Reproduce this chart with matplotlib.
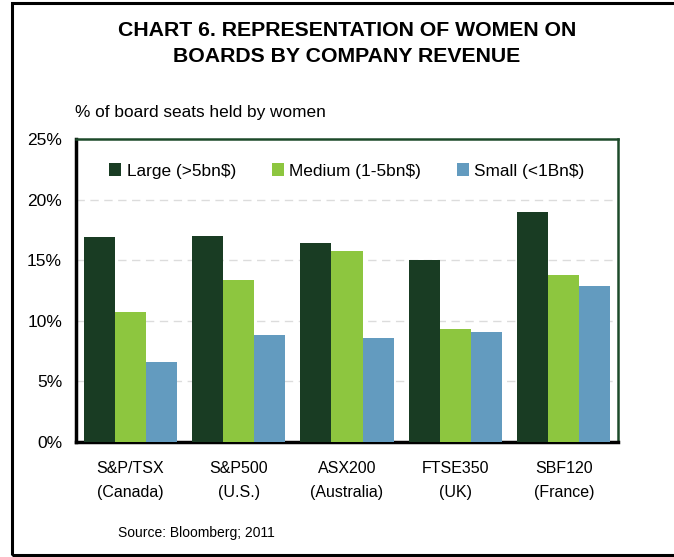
import matplotlib
matplotlib.use("Agg")
import matplotlib.pyplot as plt
from matplotlib.patches import Rectangle
import numpy as np

plt.rcParams['font.family'] = ['Liberation Sans', 'DejaVu Sans']

categories = ["S&P/TSX\n(Canada)", "S&P500\n(U.S.)", "ASX200\n(Australia)", "FTSE350\n(UK)", "SBF120\n(France)"]
series_names = ["Large (>5bn$)", "Medium (1-5bn$)", "Small (<1Bn$)"]
large = [16.9, 17.0, 16.4, 15.0, 19.0]
medium = [10.7, 13.4, 15.8, 9.3, 13.8]
small = [6.6, 8.8, 8.6, 9.1, 12.9]
yticks = [0, 5, 10, 15, 20, 25]
ytick_labels = ["0%", "5%", "10%", "15%", "20%", "25%"]

colors = ["#193c23", "#8dc63f", "#639bbf"]

fig = plt.figure(figsize=(6.74, 5.57), dpi=100)
ax = fig.add_axes([76/674, 1-442/557, (618-76)/674, (442-139)/557])

x = np.arange(len(categories))
w = 0.287
for i, (vals, name, c) in enumerate(zip([large, medium, small], series_names, colors)):
    ax.bar(x + (i-1)*w, vals, width=w, color=c, label=name, zorder=3)

ax.set_xlim(-0.5, len(categories)-0.5)
ax.set_ylim(0, 25)
ax.set_yticks(yticks)
ax.set_yticklabels(ytick_labels, fontsize=12.5)
ax.set_xticks(x)
ax.set_xticklabels(categories, fontsize=11.5, linespacing=1.75)
ax.tick_params(axis='y', length=0, pad=10)
ax.tick_params(axis='x', length=0, pad=14)

for yv in yticks[1:-1]:
    ax.axhline(yv, color="#dcdcdc", lw=1, ls=(0, (6, 4)), zorder=1)

ax.spines['left'].set_color('black')
ax.spines['left'].set_linewidth(2.5)
ax.spines['bottom'].set_color('black')
ax.spines['bottom'].set_linewidth(2.5)
ax.spines['top'].set_color('#1d4a2a')
ax.spines['top'].set_linewidth(1.8)
ax.spines['right'].set_color('#1d4a2a')
ax.spines['right'].set_linewidth(1.8)

leg = ax.legend(loc='center', bbox_to_anchor=(0.5, 1-(171-139)/303), ncol=3, frameon=False,
                fontsize=12.4, handlelength=0.7, handleheight=0.7, handletextpad=0.3,
                columnspacing=2.1)

fig.text(347/674, 1-31/557, "CHART 6. REPRESENTATION OF WOMEN ON", ha='center', va='center',
         fontsize=15.3, fontweight='bold')
fig.text(347/674, 1-57/557, "BOARDS BY COMPANY REVENUE", ha='center', va='center',
         fontsize=15.3, fontweight='bold')
fig.text(75/674, 1-112/557, "% of board seats held by women", ha='left', va='center', fontsize=12.4)
fig.text(118/674, 1-533/557, "Source: Bloomberg; 2011", ha='left', va='center', fontsize=10)

frame = Rectangle((12/674, 2/557), 1.0, 552/557, transform=fig.transFigure, fill=False,
                  edgecolor='black', lw=2.2)
fig.add_artist(frame)

fig.savefig("out.png", dpi=100)
